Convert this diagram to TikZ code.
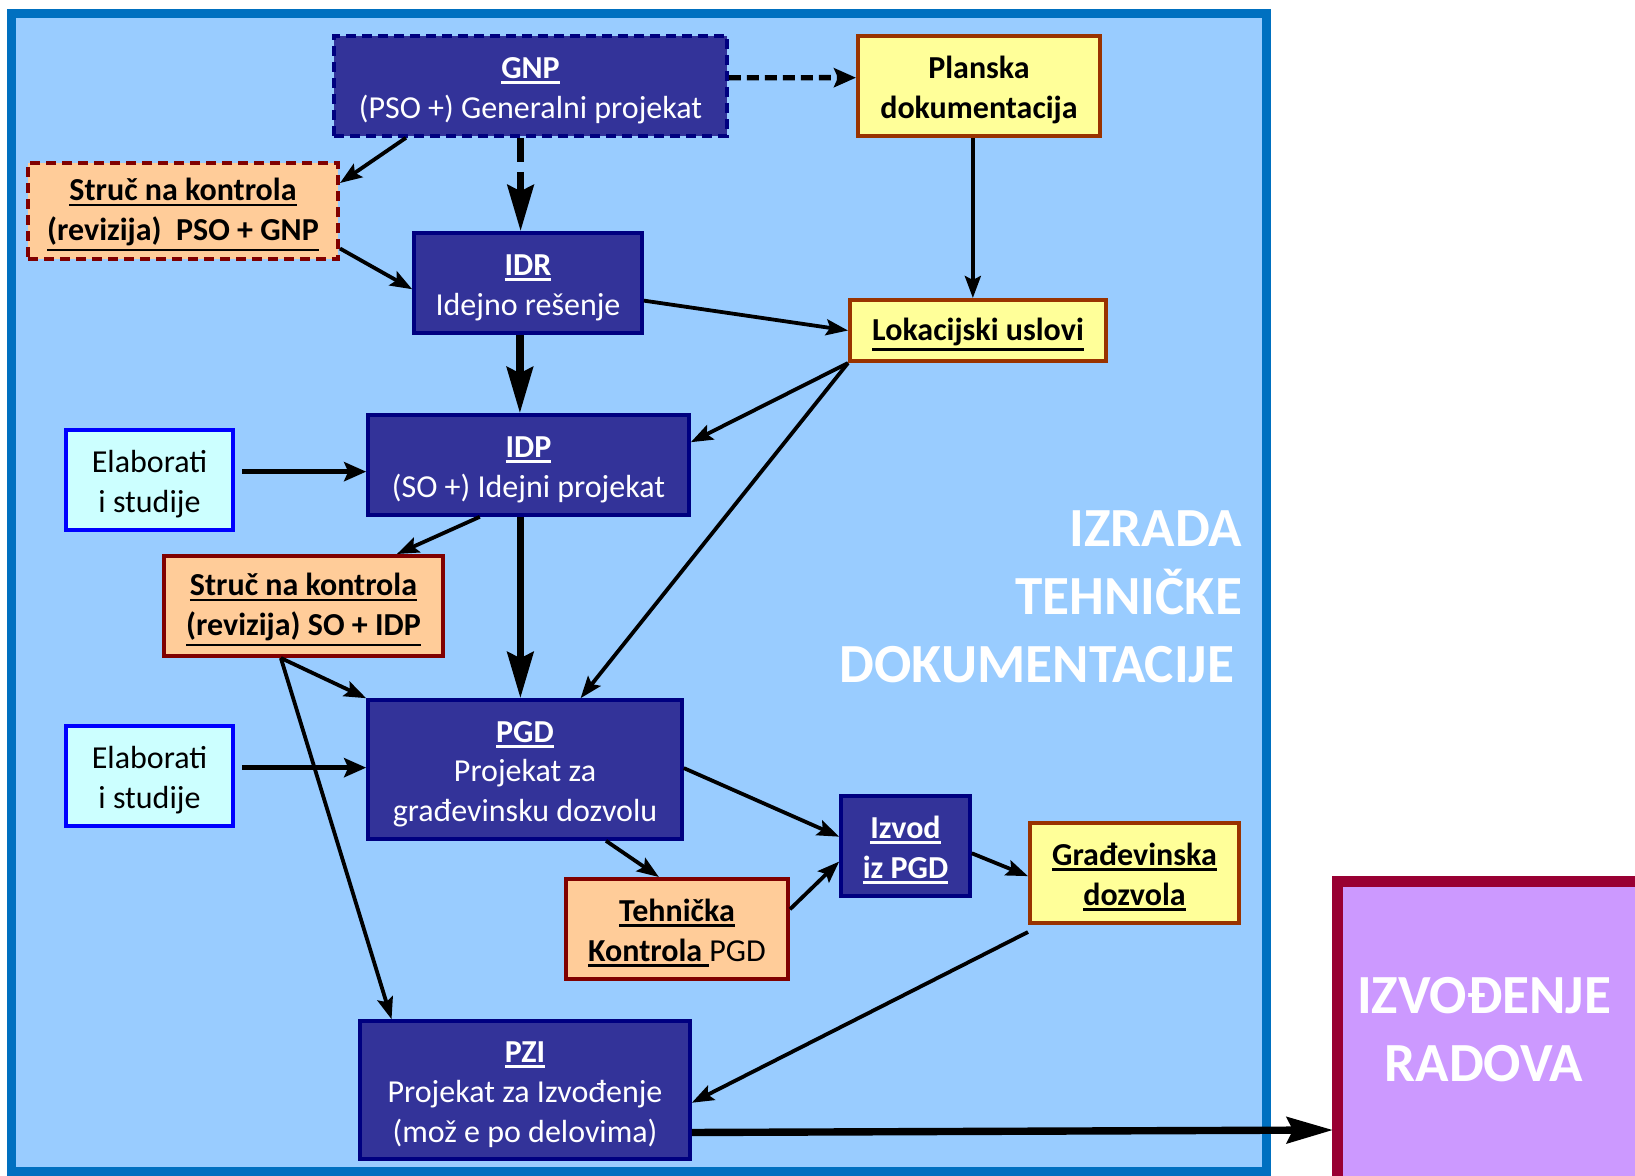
\documentclass[tikz,border=0pt]{standalone}
\usepackage{fontspec}
\setmainfont{Carlito}
\usetikzlibrary{arrows.meta,calc}
\definecolor{framefill}{HTML}{99CCFF}
\definecolor{frameline}{HTML}{0070C0}
\definecolor{navyfill}{HTML}{333399}
\definecolor{navyline}{HTML}{000080}
\definecolor{yelfill}{HTML}{FFFF99}
\definecolor{yelline}{HTML}{993300}
\definecolor{orgfill}{HTML}{FFCC99}
\definecolor{orgline}{HTML}{800000}
\definecolor{elafill}{HTML}{CCFFFF}
\definecolor{elaline}{HTML}{0000FF}
\definecolor{izvfill}{HTML}{CC99FF}
\definecolor{izvline}{HTML}{990033}
\newcommand\myul[1]{\setbox0\hbox{#1}\rlap{\rule[\dimexpr-\dp0-2.6pt\relax]{\wd0}{1.3pt}}\box0}
\newcommand\topst{\rule{0pt}{15pt}}
\tikzset{
  boxbase/.style={draw, line width=1.8pt, align=center, inner sep=0pt, font=\fontsize{16}{19.8}\selectfont},
  navybox/.style={boxbase, fill=navyfill, draw=navyline, text=white},
  yelbox/.style={boxbase, fill=yelfill, draw=yelline, line width=2pt, font=\fontsize{16}{19.8}\selectfont\bfseries},
  orgbox/.style={boxbase, fill=orgfill, draw=orgline, line width=2pt, font=\fontsize{16}{19.8}\selectfont\bfseries},
  elabox/.style={boxbase, fill=elafill, draw=elaline, line width=2.2pt},
  dashbox/.style={dash pattern=on 5pt off 3pt},
  arr/.style={-{Stealth[length=11pt,width=8pt,inset=2pt]}, line width=1.9pt},
  medarr/.style={-{Stealth[length=11pt,width=9.5pt,inset=2pt]}, line width=2.7pt},
  bigarr/.style={-{Stealth[length=23pt,width=13pt,inset=3pt]}, line width=3.7pt},
  bigtext/.style={text=white, font=\fontsize{27.6}{34}\selectfont\bfseries}
}
\begin{document}
\begin{tikzpicture}[x=0.5pt,y=-0.5pt]
\useasboundingbox (0,0) rectangle (1635,1175);
% frame
\draw[draw=frameline, fill=framefill, line width=4.5pt] (11.5,13.5) rectangle (1266,1171);
% Izvodjenje box
\begin{scope}
\clip (0,0) rectangle (1635,1175);
\draw[draw=izvline, fill=izvfill, line width=5.5pt] (1337.5,881.5) rectangle (1700,1260);
\end{scope}
\coordinate (izvin) at (1333,1130);
\node[bigtext, align=center] (izv) at (1484,1030) {IZVOĐENJE\\RADOVA};
\node[bigtext, align=right, anchor=east] (title) at (1249,597) {IZRADA\\TEHNIČKE\\DOKUMENTACIJE\kern4pt};

% nodes
\node[navybox, dashbox, minimum width=196.5pt, minimum height=50pt] (gnp) at (530.5,86)
  {\topst\textbf{\myul{GNP}}\\(PSO +) Generalni projekat};
\node[yelbox, minimum width=121pt, minimum height=50pt] (pl) at (979,86)
  {\topst Planska\\dokumentacija};
\node[orgbox, dashbox, minimum width=155pt, minimum height=48pt] (s1) at (183,211)
  {\topst\myul{Struč na kontrola}\\\myul{(revizija)\ \ PSO + GNP}};
\node[navybox, minimum width=114pt, minimum height=50pt] (idr) at (528,283)
  {\topst\textbf{\myul{IDR}}\\Idejno rešenje};
\node[yelbox, minimum width=128pt, minimum height=30.5pt] (lok) at (978,330.5)
  {\topst\myul{Lokacijski uslovi}};
\node[elabox, minimum width=83.5pt, minimum height=50pt] (el1) at (149.5,480)
  {\topst Elaborati\\i studije};
\node[navybox, minimum width=160.5pt, minimum height=50pt] (idp) at (528.5,465)
  {\topst\textbf{\myul{IDP}}\\(SO +) Idejni projekat};
\node[orgbox, minimum width=139.5pt, minimum height=50pt] (s2) at (303.5,606)
  {\topst\myul{Struč na kontrola}\\\myul{(revizija) SO + IDP}};
\node[navybox, minimum width=157pt, minimum height=69.5pt] (pgd) at (525,769.5)
  {\topst\textbf{\myul{PGD}}\\Projekat za\\građevinsku dozvolu};
\node[elabox, minimum width=83.5pt, minimum height=50pt] (el2) at (149.5,776)
  {\topst Elaborati\\i studije};
\node[navybox, minimum width=64.5pt, minimum height=50pt, font=\fontsize{16}{19.8}\selectfont\bfseries] (izvod) at (905.5,846)
  {\topst\myul{Izvod}\\\myul{iz PGD}};
\node[yelbox, minimum width=104.5pt, minimum height=50pt] (grad) at (1134.5,873)
  {\topst\myul{Građevinska}\\\myul{dozvola}};
\node[orgbox, minimum width=111pt, minimum height=50pt, font=\fontsize{16}{19.8}\selectfont] (teh) at (677,929)
  {\topst\textbf{\myul{Tehnička}}\\\textbf{\myul{Kontrola\ }}PGD};
\node[navybox, minimum width=165pt, minimum height=69pt] (pzi) at (525,1090)
  {\topst\textbf{\myul{PZI}}\\Projekat za Izvođenje\\(mož e po delovima)};

% connectors
\draw[medarr, dash pattern=on 6pt off 3pt] ($(gnp.north east)!0.42!(gnp.south east)$) -- ($(pl.north west)!0.42!(pl.south west)$);
\draw[arr] ($(gnp.south west)!0.186!(gnp.south east)$) -- ($(s1.north east)!0.22!(s1.south east)$);
\coordinate (gS) at ($(gnp.south west)!0.475!(gnp.south east)$);
\draw[bigarr, dash pattern=on 12pt off 5pt] (gS) -- (gS |- idr.north);
\draw[arr] ($(s1.north east)!0.875!(s1.south east)$) -- ($(idr.north west)!0.56!(idr.south west)$);
\coordinate (pS) at ($(pl.south west)!0.475!(pl.south east)$);
\draw[arr] (pS) -- (pS |- lok.north);
\draw[arr] ($(idr.north east)!0.67!(idr.south east)$) -- (lok.west);
\draw[arr] (lok.south west) -- ($(idp.north east)!0.28!(idp.south east)$);
\draw[arr] (lok.south west) -- ($(pgd.north west)!0.675!(pgd.north east)$);
\coordinate (iS) at ($(idr.south west)!0.465!(idr.south east)$);
\draw[bigarr] (iS) -- (iS |- idp.north);
\coordinate (e1) at ($(el1.north east)!0.42!(el1.south east)+(7,0)$);
\draw[medarr] (e1) -- (e1 -| idp.west);
\draw[arr] ($(idp.south west)!0.35!(idp.south east)$) -- ($(s2.north west)!0.83!(s2.north east)$);
\coordinate (dS) at ($(idp.south west)!0.475!(idp.south east)$);
\draw[bigarr] (dS) -- (dS |- pgd.north);
\coordinate (s2S) at ($(s2.south west)!0.42!(s2.south east)$);
\draw[arr] (s2S) -- (pgd.north west);
\draw[arr] (s2S) -- ($(pzi.north west)!0.1!(pzi.north east)$);
\coordinate (e2) at ($(el2.north east)!0.42!(el2.south east)+(7,0)$);
\draw[medarr] (e2) -- (e2 -| pgd.west);
\draw[arr] ($(pgd.north east)!0.49!(pgd.south east)$) -- ($(izvod.north west)!0.41!(izvod.south west)$);
\draw[arr] ($(pgd.south west)!0.755!(pgd.south east)$) -- ($(teh.north west)!0.42!(teh.north east)$);
\draw[arr] ($(teh.north east)!0.31!(teh.south east)$) -- ($(izvod.north west)!0.65!(izvod.south west)$);
\draw[arr] ($(izvod.north east)!0.57!(izvod.south east)$) -- ($(grad.north west)!0.53!(grad.south west)$);
\draw[arr] ($(grad.south west)+(0,7)$) -- ($(pzi.north east)!0.59!(pzi.south east)$);
\draw[bigarr] ($(pzi.north east)!0.80!(pzi.south east)$) -- (izvin);
\end{tikzpicture}
\end{document}
